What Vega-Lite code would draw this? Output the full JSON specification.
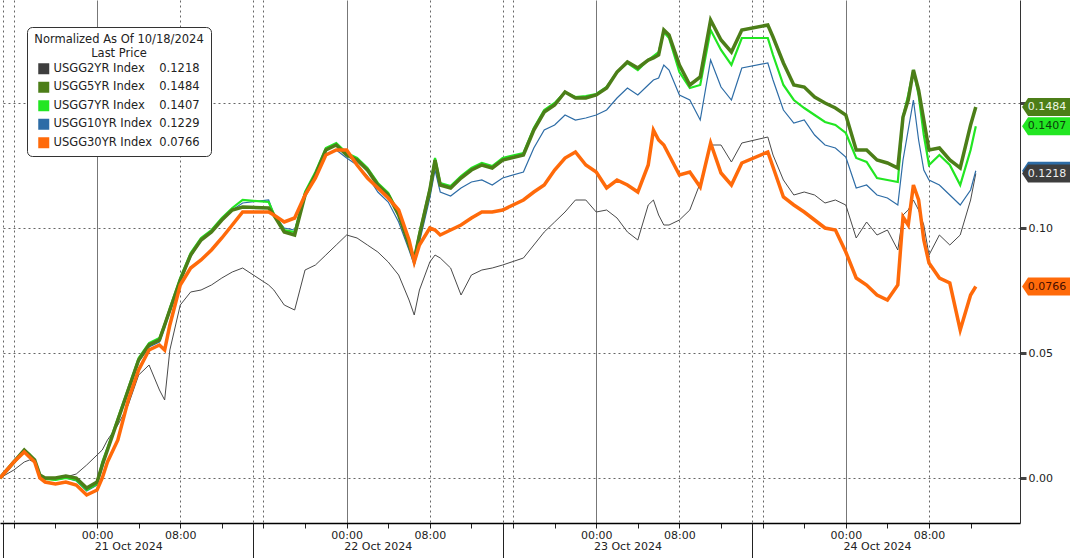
{
  "$schema": "https://vega.github.io/schema/vega-lite/v6.json",
  "width": 1020,
  "height": 523,
  "autosize": {"type": "none"},
  "padding": {"left": 0, "top": 0, "right": 50, "bottom": 35},
  "background": "white",
  "config": {"font": "DejaVu Sans", "view": {"stroke": null}},
  "datasets": {
    "yields": [
      {"t":"2024-10-20T14:40","2Y":0,"5Y":0,"7Y":0,"10Y":0,"30Y":0},
      {"t":"2024-10-20T16:00","2Y":0.0032,"5Y":0.0064,"7Y":0.0064,"10Y":0.006,"30Y":0.0064},
      {"t":"2024-10-20T17:00","2Y":0.0064,"5Y":0.0112,"7Y":0.0112,"10Y":0.0108,"30Y":0.0104},
      {"t":"2024-10-20T17:30","2Y":0.0072,"5Y":0.0092,"7Y":0.0096,"10Y":0.0088,"30Y":0.0084},
      {"t":"2024-10-20T18:00","2Y":0.0064,"5Y":0.0072,"7Y":0.0072,"10Y":0.0068,"30Y":0.0064},
      {"t":"2024-10-20T18:30","2Y":0.0016,"5Y":0.0012,"7Y":0.0008,"10Y":0.0008,"30Y":0},
      {"t":"2024-10-20T19:00","2Y":0,"5Y":0,"7Y":-0.0004,"10Y":-0.0004,"30Y":-0.0016},
      {"t":"2024-10-20T20:00","2Y":0,"5Y":0,"7Y":-0.0008,"10Y":-0.0008,"30Y":-0.0024},
      {"t":"2024-10-20T21:00","2Y":0.0004,"5Y":0.0008,"7Y":0,"10Y":0,"30Y":-0.0016},
      {"t":"2024-10-20T22:00","2Y":0.0016,"5Y":0,"7Y":-0.0008,"10Y":-0.0012,"30Y":-0.0028},
      {"t":"2024-10-20T23:00","2Y":0.0052,"5Y":-0.004,"7Y":-0.0048,"10Y":-0.0052,"30Y":-0.0068},
      {"t":"2024-10-21T00:00","2Y":0.0092,"5Y":-0.0016,"7Y":-0.0024,"10Y":-0.0028,"30Y":-0.0048},
      {"t":"2024-10-21T00:30","2Y":0.0112,"5Y":0.0052,"7Y":0.0064,"10Y":0.004,"30Y":0},
      {"t":"2024-10-21T01:00","2Y":0.0152,"5Y":0.0112,"7Y":0.012,"10Y":0.0112,"30Y":0.0064},
      {"t":"2024-10-21T02:00","2Y":0.0212,"5Y":0.0232,"7Y":0.024,"10Y":0.0224,"30Y":0.0152},
      {"t":"2024-10-21T03:00","2Y":0.0292,"5Y":0.0352,"7Y":0.036,"10Y":0.0344,"30Y":0.0312},
      {"t":"2024-10-21T04:00","2Y":0.0412,"5Y":0.0472,"7Y":0.048,"10Y":0.0464,"30Y":0.0432},
      {"t":"2024-10-21T05:00","2Y":0.0452,"5Y":0.0532,"7Y":0.054,"10Y":0.0524,"30Y":0.0512},
      {"t":"2024-10-21T06:00","2Y":0.0352,"5Y":0.0552,"7Y":0.056,"10Y":0.0544,"30Y":0.0532},
      {"t":"2024-10-21T06:30","2Y":0.0312,"5Y":0.0612,"7Y":0.0616,"10Y":0.06,"30Y":0.0512},
      {"t":"2024-10-21T07:00","2Y":0.0512,"5Y":0.0672,"7Y":0.068,"10Y":0.0664,"30Y":0.0612},
      {"t":"2024-10-21T08:00","2Y":0.0692,"5Y":0.0792,"7Y":0.08,"10Y":0.0784,"30Y":0.0772},
      {"t":"2024-10-21T09:00","2Y":0.0744,"5Y":0.0892,"7Y":0.09,"10Y":0.0884,"30Y":0.084},
      {"t":"2024-10-21T10:00","2Y":0.0752,"5Y":0.0952,"7Y":0.096,"10Y":0.0952,"30Y":0.0872},
      {"t":"2024-10-21T11:00","2Y":0.0772,"5Y":0.0984,"7Y":0.0992,"10Y":0.0984,"30Y":0.0912},
      {"t":"2024-10-21T12:00","2Y":0.08,"5Y":0.1032,"7Y":0.104,"10Y":0.1032,"30Y":0.096},
      {"t":"2024-10-21T13:00","2Y":0.0824,"5Y":0.1072,"7Y":0.108,"10Y":0.1072,"30Y":0.1012},
      {"t":"2024-10-21T14:00","2Y":0.084,"5Y":0.1084,"7Y":0.1112,"10Y":0.11,"30Y":0.1064},
      {"t":"2024-10-21T16:30","2Y":0.0772,"5Y":0.108,"7Y":0.1104,"10Y":0.1112,"30Y":0.1064},
      {"t":"2024-10-21T17:00","2Y":0.0752,"5Y":0.1052,"7Y":0.1056,"10Y":0.1056,"30Y":0.1052},
      {"t":"2024-10-21T18:00","2Y":0.0692,"5Y":0.0984,"7Y":0.0992,"10Y":0.1,"30Y":0.1024},
      {"t":"2024-10-21T19:00","2Y":0.0672,"5Y":0.0972,"7Y":0.0984,"10Y":0.0992,"30Y":0.104},
      {"t":"2024-10-21T20:00","2Y":0.0832,"5Y":0.1132,"7Y":0.1144,"10Y":0.1128,"30Y":0.1132},
      {"t":"2024-10-21T21:00","2Y":0.0852,"5Y":0.1212,"7Y":0.1224,"10Y":0.12,"30Y":0.12},
      {"t":"2024-10-21T22:00","2Y":0.0892,"5Y":0.1312,"7Y":0.132,"10Y":0.1292,"30Y":0.1292},
      {"t":"2024-10-21T23:00","2Y":0.0932,"5Y":0.1332,"7Y":0.134,"10Y":0.1312,"30Y":0.1312},
      {"t":"2024-10-22T00:00","2Y":0.0972,"5Y":0.1292,"7Y":0.13,"10Y":0.128,"30Y":0.1312},
      {"t":"2024-10-22T01:00","2Y":0.096,"5Y":0.1272,"7Y":0.128,"10Y":0.1252,"30Y":0.1252},
      {"t":"2024-10-22T02:00","2Y":0.0932,"5Y":0.1232,"7Y":0.124,"10Y":0.1208,"30Y":0.12},
      {"t":"2024-10-22T03:00","2Y":0.0904,"5Y":0.1172,"7Y":0.118,"10Y":0.1144,"30Y":0.116},
      {"t":"2024-10-22T04:00","2Y":0.0864,"5Y":0.1132,"7Y":0.114,"10Y":0.1104,"30Y":0.112},
      {"t":"2024-10-22T05:00","2Y":0.0812,"5Y":0.1052,"7Y":0.106,"10Y":0.1024,"30Y":0.1072},
      {"t":"2024-10-22T06:00","2Y":0.0712,"5Y":0.0932,"7Y":0.094,"10Y":0.0912,"30Y":0.0952},
      {"t":"2024-10-22T06:30","2Y":0.0652,"5Y":0.0872,"7Y":0.088,"10Y":0.0852,"30Y":0.0864},
      {"t":"2024-10-22T07:00","2Y":0.0752,"5Y":0.0972,"7Y":0.098,"10Y":0.0944,"30Y":0.0932},
      {"t":"2024-10-22T08:00","2Y":0.0864,"5Y":0.1152,"7Y":0.116,"10Y":0.112,"30Y":0.1},
      {"t":"2024-10-22T08:30","2Y":0.0892,"5Y":0.1272,"7Y":0.128,"10Y":0.1232,"30Y":0.0992},
      {"t":"2024-10-22T09:00","2Y":0.088,"5Y":0.1172,"7Y":0.118,"10Y":0.1144,"30Y":0.0972},
      {"t":"2024-10-22T10:00","2Y":0.084,"5Y":0.116,"7Y":0.1168,"10Y":0.1128,"30Y":0.0992},
      {"t":"2024-10-22T11:00","2Y":0.0732,"5Y":0.12,"7Y":0.1208,"10Y":0.116,"30Y":0.1012},
      {"t":"2024-10-22T12:00","2Y":0.0812,"5Y":0.1232,"7Y":0.124,"10Y":0.1184,"30Y":0.104},
      {"t":"2024-10-22T13:00","2Y":0.0832,"5Y":0.1252,"7Y":0.126,"10Y":0.1192,"30Y":0.1064},
      {"t":"2024-10-22T14:00","2Y":0.084,"5Y":0.124,"7Y":0.1248,"10Y":0.1172,"30Y":0.1064},
      {"t":"2024-10-22T15:00","2Y":0.0852,"5Y":0.1272,"7Y":0.128,"10Y":0.12,"30Y":0.1072},
      {"t":"2024-10-22T17:00","2Y":0.088,"5Y":0.1292,"7Y":0.13,"10Y":0.1224,"30Y":0.1112},
      {"t":"2024-10-22T18:00","2Y":0.0932,"5Y":0.1392,"7Y":0.14,"10Y":0.132,"30Y":0.1144},
      {"t":"2024-10-22T19:00","2Y":0.0984,"5Y":0.1464,"7Y":0.1472,"10Y":0.1392,"30Y":0.1172},
      {"t":"2024-10-22T20:00","2Y":0.1024,"5Y":0.1492,"7Y":0.15,"10Y":0.1412,"30Y":0.1232},
      {"t":"2024-10-22T21:00","2Y":0.1064,"5Y":0.1544,"7Y":0.1544,"10Y":0.1452,"30Y":0.128},
      {"t":"2024-10-22T22:00","2Y":0.1112,"5Y":0.152,"7Y":0.1524,"10Y":0.1432,"30Y":0.1304},
      {"t":"2024-10-22T23:00","2Y":0.1112,"5Y":0.152,"7Y":0.1528,"10Y":0.144,"30Y":0.1252},
      {"t":"2024-10-23T00:00","2Y":0.1064,"5Y":0.1532,"7Y":0.1536,"10Y":0.1452,"30Y":0.1224},
      {"t":"2024-10-23T01:00","2Y":0.1072,"5Y":0.156,"7Y":0.1564,"10Y":0.1472,"30Y":0.116},
      {"t":"2024-10-23T02:00","2Y":0.104,"5Y":0.1624,"7Y":0.1624,"10Y":0.152,"30Y":0.1192},
      {"t":"2024-10-23T03:00","2Y":0.0984,"5Y":0.1664,"7Y":0.166,"10Y":0.156,"30Y":0.1172},
      {"t":"2024-10-23T04:00","2Y":0.0952,"5Y":0.164,"7Y":0.1632,"10Y":0.1532,"30Y":0.1144},
      {"t":"2024-10-23T05:00","2Y":0.1092,"5Y":0.1672,"7Y":0.1672,"10Y":0.1572,"30Y":0.1252},
      {"t":"2024-10-23T05:30","2Y":0.1112,"5Y":0.168,"7Y":0.1688,"10Y":0.1592,"30Y":0.1392},
      {"t":"2024-10-23T06:00","2Y":0.1052,"5Y":0.1692,"7Y":0.1704,"10Y":0.16,"30Y":0.1352},
      {"t":"2024-10-23T06:30","2Y":0.1012,"5Y":0.1792,"7Y":0.1784,"10Y":0.1652,"30Y":0.1332},
      {"t":"2024-10-23T07:00","2Y":0.1012,"5Y":0.1772,"7Y":0.176,"10Y":0.1632,"30Y":0.1292},
      {"t":"2024-10-23T08:00","2Y":0.1032,"5Y":0.1652,"7Y":0.1624,"10Y":0.1532,"30Y":0.1212},
      {"t":"2024-10-23T09:00","2Y":0.1072,"5Y":0.1572,"7Y":0.156,"10Y":0.1512,"30Y":0.1224},
      {"t":"2024-10-23T10:00","2Y":0.118,"5Y":0.1604,"7Y":0.1572,"10Y":0.1432,"30Y":0.1164},
      {"t":"2024-10-23T11:00","2Y":0.1332,"5Y":0.1832,"7Y":0.1792,"10Y":0.1672,"30Y":0.134},
      {"t":"2024-10-23T12:00","2Y":0.1332,"5Y":0.1752,"7Y":0.1712,"10Y":0.1564,"30Y":0.122},
      {"t":"2024-10-23T13:00","2Y":0.1264,"5Y":0.1704,"7Y":0.1652,"10Y":0.1512,"30Y":0.1172},
      {"t":"2024-10-23T14:00","2Y":0.134,"5Y":0.1792,"7Y":0.176,"10Y":0.164,"30Y":0.126},
      {"t":"2024-10-23T16:30","2Y":0.1364,"5Y":0.1812,"7Y":0.176,"10Y":0.166,"30Y":0.1304},
      {"t":"2024-10-23T17:00","2Y":0.1292,"5Y":0.1764,"7Y":0.1692,"10Y":0.1592,"30Y":0.1244},
      {"t":"2024-10-23T18:00","2Y":0.1192,"5Y":0.166,"7Y":0.1572,"10Y":0.1472,"30Y":0.1124},
      {"t":"2024-10-23T19:00","2Y":0.1132,"5Y":0.1572,"7Y":0.1512,"10Y":0.142,"30Y":0.1092},
      {"t":"2024-10-23T20:00","2Y":0.1144,"5Y":0.1564,"7Y":0.148,"10Y":0.1432,"30Y":0.1064},
      {"t":"2024-10-23T21:00","2Y":0.1132,"5Y":0.1524,"7Y":0.1452,"10Y":0.1372,"30Y":0.1032},
      {"t":"2024-10-23T22:00","2Y":0.11,"5Y":0.15,"7Y":0.1424,"10Y":0.1332,"30Y":0.1},
      {"t":"2024-10-23T23:00","2Y":0.1112,"5Y":0.148,"7Y":0.1412,"10Y":0.132,"30Y":0.0992},
      {"t":"2024-10-24T00:00","2Y":0.1092,"5Y":0.1452,"7Y":0.138,"10Y":0.1284,"30Y":0.0904},
      {"t":"2024-10-24T01:00","2Y":0.096,"5Y":0.1312,"7Y":0.128,"10Y":0.116,"30Y":0.08},
      {"t":"2024-10-24T02:00","2Y":0.1024,"5Y":0.1312,"7Y":0.1264,"10Y":0.1172,"30Y":0.0772},
      {"t":"2024-10-24T03:00","2Y":0.0972,"5Y":0.1272,"7Y":0.12,"10Y":0.1132,"30Y":0.0732},
      {"t":"2024-10-24T04:00","2Y":0.0992,"5Y":0.126,"7Y":0.1192,"10Y":0.112,"30Y":0.0712},
      {"t":"2024-10-24T05:00","2Y":0.0912,"5Y":0.124,"7Y":0.1184,"10Y":0.1092,"30Y":0.0772},
      {"t":"2024-10-24T05:30","2Y":0.1052,"5Y":0.1444,"7Y":0.1444,"10Y":0.1272,"30Y":0.1044},
      {"t":"2024-10-24T06:00","2Y":0.1072,"5Y":0.1512,"7Y":0.1532,"10Y":0.1392,"30Y":0.1012},
      {"t":"2024-10-24T06:30","2Y":0.1112,"5Y":0.1632,"7Y":0.1632,"10Y":0.1512,"30Y":0.1172},
      {"t":"2024-10-24T07:00","2Y":0.1072,"5Y":0.1552,"7Y":0.1532,"10Y":0.1352,"30Y":0.1112},
      {"t":"2024-10-24T07:30","2Y":0.1012,"5Y":0.1432,"7Y":0.1372,"10Y":0.1232,"30Y":0.0952},
      {"t":"2024-10-24T08:00","2Y":0.0892,"5Y":0.1312,"7Y":0.1252,"10Y":0.1192,"30Y":0.086},
      {"t":"2024-10-24T09:00","2Y":0.0972,"5Y":0.132,"7Y":0.1292,"10Y":0.1172,"30Y":0.08},
      {"t":"2024-10-24T10:00","2Y":0.0932,"5Y":0.1272,"7Y":0.1252,"10Y":0.1132,"30Y":0.078},
      {"t":"2024-10-24T11:00","2Y":0.0972,"5Y":0.124,"7Y":0.1172,"10Y":0.1092,"30Y":0.0592},
      {"t":"2024-10-24T12:00","2Y":0.1112,"5Y":0.1412,"7Y":0.1312,"10Y":0.1152,"30Y":0.0732},
      {"t":"2024-10-24T12:30","2Y":0.1218,"5Y":0.1484,"7Y":0.1407,"10Y":0.1229,"30Y":0.0766}
    ],
    "last": [
      {"s":"10Y","v":0.1229},
      {"s":"2Y","v":0.1218},
      {"s":"30Y","v":0.0766},
      {"s":"5Y","v":0.1484},
      {"s":"7Y","v":0.1407}
    ]
  },
  "layer": [
    {
      "data": {"name": "yields"},
      "transform": [{"fold": ["2Y"], "as": ["s", "v"]}],
      "mark": {"type": "line", "strokeWidth": 1},
      "encoding": {
        "x": {
          "field": "t", "type": "temporal",
          "scale": {"domain": [{"year":2024,"month":10,"date":20,"hours":14,"minutes":40},{"year":2024,"month":10,"date":24,"hours":16,"minutes":45}]},
          "axis": {
            "orient": "bottom", "title": null,
            "values": [
              {"year":2024,"month":10,"date":20,"hours":16},{"year":2024,"month":10,"date":20,"hours":20},
              {"year":2024,"month":10,"date":21,"hours":0},{"year":2024,"month":10,"date":21,"hours":4},{"year":2024,"month":10,"date":21,"hours":8},{"year":2024,"month":10,"date":21,"hours":12},{"year":2024,"month":10,"date":21,"hours":16},{"year":2024,"month":10,"date":21,"hours":20},
              {"year":2024,"month":10,"date":22,"hours":0},{"year":2024,"month":10,"date":22,"hours":4},{"year":2024,"month":10,"date":22,"hours":8},{"year":2024,"month":10,"date":22,"hours":12},{"year":2024,"month":10,"date":22,"hours":16},{"year":2024,"month":10,"date":22,"hours":20},
              {"year":2024,"month":10,"date":23,"hours":0},{"year":2024,"month":10,"date":23,"hours":4},{"year":2024,"month":10,"date":23,"hours":8},{"year":2024,"month":10,"date":23,"hours":12},{"year":2024,"month":10,"date":23,"hours":16},{"year":2024,"month":10,"date":23,"hours":20},
              {"year":2024,"month":10,"date":24,"hours":0},{"year":2024,"month":10,"date":24,"hours":4},{"year":2024,"month":10,"date":24,"hours":8},{"year":2024,"month":10,"date":24,"hours":12}
            ],
            "labelExpr": "(hours(datum.value) == 0 || hours(datum.value) == 8) ? timeFormat(datum.value, '%H:%M') : ''",
            "labelOverlap": false, "labelFlush": false, "labelPadding": 1,
            "labelFontSize": 11, "labelColor": "#222",
            "ticks": true, "tickSize": 5, "tickColor": "#222",
            "domain": true, "domainColor": "#000", "domainWidth": 1.5, "grid": false
          }
        },
        "y": {
          "field": "v", "type": "quantitative",
          "scale": {"domain": [-0.018, 0.1912], "nice": false, "zero": false},
          "axis": {
            "orient": "right", "title": null, "values": [0, 0.05, 0.1, 0.15], "format": ".2f",
            "labelExpr": "datum.value > 0.14 ? '' : datum.label",
            "grid": true, "gridDash": [2, 3], "gridColor": "#666",
            "domain": true, "domainColor": "#333",
            "tickSize": 6, "tickWidth": 3, "tickColor": "#444",
            "labelPadding": 2, "labelFontSize": 11, "labelColor": "#222"
          }
        },
        "stroke": {
          "field": "s", "type": "nominal",
          "scale": {"domain": ["10Y", "2Y", "5Y", "7Y", "30Y"], "range": ["#2d6ca6", "#4a4a4a", "#4c7e18", "#22e622", "#ff6a0a"]},
          "legend": null
        }
      }
    },
    {
      "data": {"name": "yields"},
      "transform": [{"fold": ["10Y"], "as": ["s", "v"]}],
      "mark": {"type": "line", "strokeWidth": 1.2},
      "encoding": {
        "x": {
          "field": "t", "type": "temporal",
          "axis": {
            "orient": "bottom", "title": null,
            "values": [{"year":2024,"month":10,"date":21,"hours":0},{"year":2024,"month":10,"date":22,"hours":0},{"year":2024,"month":10,"date":23,"hours":0},{"year":2024,"month":10,"date":24,"hours":0}],
            "labels": false, "ticks": false, "domain": false, "grid": true, "gridColor": "#777"
          }
        },
        "y": {"field": "v", "type": "quantitative", "axis": {"orient": "right", "title": null}},
        "stroke": {"field": "s", "type": "nominal", "legend": null}
      }
    },
    {
      "data": {"name": "yields"},
      "transform": [{"fold": ["7Y"], "as": ["s", "v"]}],
      "mark": {"type": "line", "strokeWidth": 2.2},
      "encoding": {
        "x": {
          "field": "t", "type": "temporal",
          "axis": {
            "orient": "bottom", "title": null,
            "values": [{"year":2024,"month":10,"date":20,"hours":16},{"year":2024,"month":10,"date":21,"hours":8},{"year":2024,"month":10,"date":21,"hours":16},{"year":2024,"month":10,"date":22,"hours":8},{"year":2024,"month":10,"date":22,"hours":16},{"year":2024,"month":10,"date":23,"hours":8},{"year":2024,"month":10,"date":23,"hours":16},{"year":2024,"month":10,"date":24,"hours":8}],
            "labels": false, "ticks": false, "domain": false, "grid": true, "gridColor": "#666", "gridDash": [2, 3]
          }
        },
        "y": {"field": "v", "type": "quantitative", "axis": {"orient": "right", "title": null}},
        "stroke": {"field": "s", "type": "nominal", "legend": null}
      }
    },
    {
      "data": {"name": "yields"},
      "transform": [{"fold": ["5Y"], "as": ["s", "v"]}],
      "mark": {"type": "line", "strokeWidth": 3.5},
      "encoding": {
        "x": {
          "field": "t", "type": "temporal",
          "axis": {
            "orient": "bottom", "title": null,
            "values": [{"year":2024,"month":10,"date":20,"hours":15},{"year":2024,"month":10,"date":21,"hours":15},{"year":2024,"month":10,"date":22,"hours":15},{"year":2024,"month":10,"date":23,"hours":15}],
            "labels": false, "ticks": true, "tickSize": 35, "tickColor": "#222",
            "domain": false, "grid": true, "gridDash": [2, 3], "gridColor": "#666"
          }
        },
        "y": {"field": "v", "type": "quantitative", "axis": {"orient": "right", "title": null}},
        "stroke": {"field": "s", "type": "nominal", "legend": null}
      }
    },
    {
      "data": {"name": "yields"},
      "transform": [{"fold": ["30Y"], "as": ["s", "v"]}],
      "mark": {"type": "line", "strokeWidth": 3.5},
      "encoding": {
        "x": {
          "field": "t", "type": "temporal",
          "axis": {
            "orient": "bottom", "title": null,
            "values": [{"year":2024,"month":10,"date":21,"hours":3},{"year":2024,"month":10,"date":22,"hours":3},{"year":2024,"month":10,"date":23,"hours":3},{"year":2024,"month":10,"date":24,"hours":3}],
            "format": "%d %b %Y", "labelPadding": 17, "ticks": false, "domain": false, "grid": false,
            "labelFontSize": 11, "labelColor": "#222", "labelOverlap": false, "labelFlush": false
          }
        },
        "y": {"field": "v", "type": "quantitative", "axis": {"orient": "right", "title": null}},
        "stroke": {"field": "s", "type": "nominal", "legend": null}
      }
    },
    {
      "data": {"name": "last"},
      "mark": {"type": "point", "filled": true, "opacity": 1, "shape": "M-1,0L-0.76,-0.36L1,-0.36L1,0.36L-0.76,0.36Z", "size": 2500},
      "encoding": {
        "x": {"datum": {"year":2024,"month":10,"date":24,"hours":19,"minutes":21}, "type": "temporal", "axis": null},
        "y": {"field": "v", "type": "quantitative", "axis": {"orient": "right", "title": null}},
        "color": {
          "field": "s", "type": "nominal",
          "scale": {"domain": ["2Y", "5Y", "7Y", "10Y", "30Y"], "range": ["#3e3e3e", "#4c7e18", "#22e622", "#2d6ca6", "#ff6a0a"]},
          "legend": {
            "orient": "top-left", "offset": 27,
            "title": ["Normalized As Of 10/18/2024", "Last Price"],
            "titleAnchor": "middle", "titleAlign": "center", "titleFontSize": 11.5, "titleFontWeight": "normal",
            "titleColor": "#222", "titlePadding": 4, "titleLimit": 400,
            "labelFontSize": 11.5, "labelColor": "#222", "labelLimit": 400,
            "labelExpr": "datum.label == '2Y' ? 'USGG2YR Index\u00a0\u00a0\u00a0\u00a00.1218' : datum.label == '5Y' ? 'USGG5YR Index\u00a0\u00a0\u00a0\u00a00.1484' : datum.label == '7Y' ? 'USGG7YR Index\u00a0\u00a0\u00a0\u00a00.1407' : datum.label == '10Y' ? 'USGG10YR Index\u00a0\u00a00.1229' : 'USGG30YR Index\u00a0\u00a00.0766'",
            "symbolType": "square", "symbolSize": 121, "symbolStrokeWidth": 0,
            "fillColor": "white", "strokeColor": "#333", "cornerRadius": 5, "padding": 7, "rowPadding": 5.5
          }
        }
      }
    },
    {
      "data": {"name": "last"},
      "transform": [{"filter": "datum.s != '10Y'"}],
      "mark": {"type": "text", "fontSize": 11, "align": "center", "baseline": "middle"},
      "encoding": {
        "x": {"datum": {"year":2024,"month":10,"date":24,"hours":19,"minutes":21}, "type": "temporal", "axis": null},
        "y": {"field": "v", "type": "quantitative", "axis": {"orient": "right", "title": null}},
        "text": {"field": "v", "type": "quantitative", "format": ".4f"},
        "fill": {
          "field": "s", "type": "nominal",
          "scale": {"domain": ["30Y", "7Y", "5Y", "2Y", "10Y"], "range": ["#4a0f00", "#0b3d0b", "#eef6e2", "#eeeeee", "#ffffff"]},
          "legend": null
        }
      }
    }
  ],
  "resolve": {"axis": {"x": "independent"}}
}
